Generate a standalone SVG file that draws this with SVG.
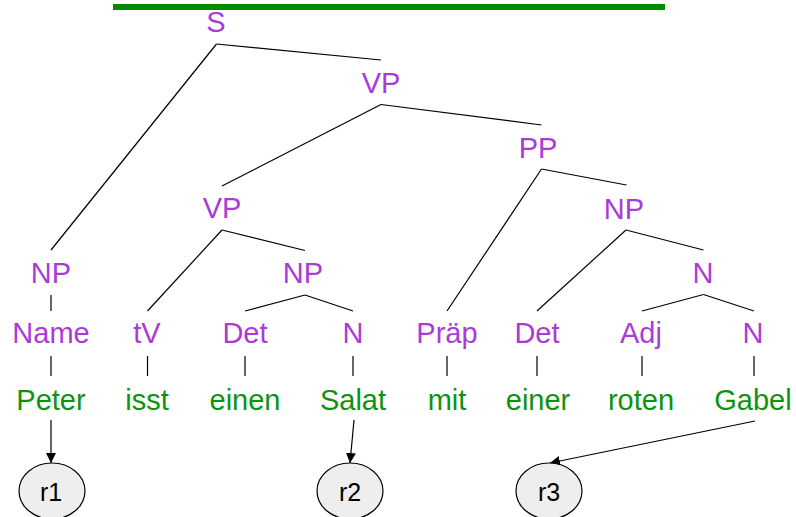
<svg xmlns="http://www.w3.org/2000/svg" width="796" height="517" viewBox="0 0 796 517">
<style>
.cat{font-family:"Liberation Sans",Arial,sans-serif;font-size:29px;fill:#a93bd9;text-anchor:middle}
.word{font-family:"Liberation Sans",Arial,sans-serif;font-size:29px;fill:#0f930f;text-anchor:middle}
.ref{font-family:"Liberation Sans",Arial,sans-serif;font-size:25px;fill:#000;text-anchor:middle}
.ln{stroke:#000;stroke-width:1.2;fill:none}
.arr{stroke:#000;stroke-width:1.2;fill:none;marker-end:url(#ah)}
.ell{fill:#eeeeee;stroke:#000;stroke-width:1.2}
</style>
<defs>
<marker id="ah" viewBox="0 0 10 10" refX="10" refY="5" markerWidth="10" markerHeight="10" markerUnits="userSpaceOnUse" orient="auto">
<path d="M0,0 L10,5 L0,10 Z" fill="#000"/>
</marker>
</defs>
<rect x="113" y="4" width="552" height="6" fill="#008a00"/>
<g id="connectors">
<line class="ln" x1="216.5" y1="44" x2="381" y2="60"/>
<line class="ln" x1="216.5" y1="44" x2="51" y2="250"/>
<line class="ln" x1="381" y1="104.5" x2="222" y2="186"/>
<line class="ln" x1="381" y1="104.5" x2="541.5" y2="125"/>
<line class="ln" x1="541.5" y1="169" x2="447" y2="311"/>
<line class="ln" x1="541.5" y1="169" x2="626.5" y2="185"/>
<line class="ln" x1="626" y1="230" x2="537" y2="311"/>
<line class="ln" x1="626" y1="230" x2="703.5" y2="250"/>
<line class="ln" x1="703.5" y1="294.5" x2="642" y2="311"/>
<line class="ln" x1="703.5" y1="294.5" x2="754" y2="311"/>
<line class="ln" x1="222" y1="230" x2="147.5" y2="311"/>
<line class="ln" x1="222" y1="230" x2="305" y2="250.5"/>
<line class="ln" x1="305" y1="295" x2="245" y2="311"/>
<line class="ln" x1="305" y1="295" x2="353" y2="311"/>
<line class="ln" x1="51" y1="295" x2="51" y2="311"/>
<line class="ln" x1="51" y1="356" x2="51" y2="376"/>
<line class="ln" x1="147.5" y1="356" x2="147.5" y2="376"/>
<line class="ln" x1="245" y1="356" x2="245" y2="376"/>
<line class="ln" x1="353" y1="356" x2="353" y2="376"/>
<line class="ln" x1="447" y1="356" x2="447" y2="376"/>
<line class="ln" x1="537" y1="356" x2="537" y2="376"/>
<line class="ln" x1="642" y1="356" x2="642" y2="376"/>
<line class="ln" x1="754" y1="356" x2="754" y2="376"/>
<line class="arr" x1="51" y1="420" x2="51" y2="463"/>
<line class="arr" x1="354" y1="420" x2="350" y2="463"/>
<line class="arr" x1="755" y1="421" x2="550" y2="463"/>
</g>
<g id="S"><text class="cat" x="216" y="32">S</text></g>
<g id="VP1"><text class="cat" x="381" y="93">VP</text></g>
<g id="PP"><text class="cat" x="538" y="158">PP</text></g>
<g id="VP2"><text class="cat" x="222" y="218">VP</text></g>
<g id="NP3"><text class="cat" x="624" y="219">NP</text></g>
<g id="NP1"><text class="cat" x="51" y="283">NP</text></g>
<g id="NP2"><text class="cat" x="303" y="283">NP</text></g>
<g id="N3"><text class="cat" x="703" y="283">N</text></g>
<g id="Name"><text class="cat" x="51" y="343">Name</text></g>
<g id="tV"><text class="cat" x="147" y="343">tV</text></g>
<g id="Det1"><text class="cat" x="245" y="343">Det</text></g>
<g id="N1"><text class="cat" x="353" y="343">N</text></g>
<g id="Praep"><text class="cat" x="447" y="343">Präp</text></g>
<g id="Det2"><text class="cat" x="537" y="343">Det</text></g>
<g id="Adj"><text class="cat" x="641" y="343">Adj</text></g>
<g id="N2"><text class="cat" x="753" y="343">N</text></g>
<g id="Peter"><text class="word" x="51" y="410">Peter</text></g>
<g id="isst"><text class="word" x="147" y="410">isst</text></g>
<g id="einen"><text class="word" x="245" y="410">einen</text></g>
<g id="Salat"><text class="word" x="353" y="410">Salat</text></g>
<g id="mit"><text class="word" x="447" y="410">mit</text></g>
<g id="einer"><text class="word" x="538" y="410">einer</text></g>
<g id="roten"><text class="word" x="641" y="410">roten</text></g>
<g id="Gabel"><text class="word" x="753" y="410">Gabel</text></g>
<g id="r1"><ellipse class="ell" cx="52" cy="491" rx="33" ry="28"/><text class="ref" x="51" y="501">r1</text></g>
<g id="r2"><ellipse class="ell" cx="350" cy="491" rx="33" ry="28"/><text class="ref" x="350" y="501">r2</text></g>
<g id="r3"><ellipse class="ell" cx="549" cy="491" rx="33" ry="28"/><text class="ref" x="549" y="501">r3</text></g>
</svg>
